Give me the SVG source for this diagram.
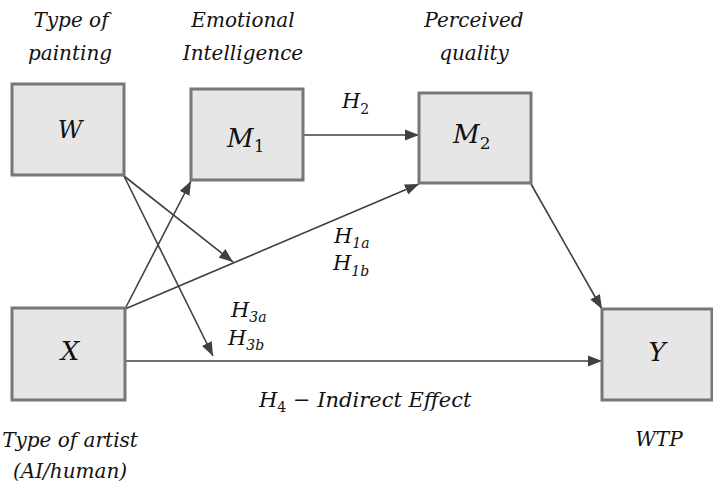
<svg xmlns="http://www.w3.org/2000/svg" width="713" height="485" viewBox="0 0 713 485">
<style>
.box{fill:#e6e6e6;stroke:#777;stroke-width:3}
.t{font-family:"DejaVu Serif","Liberation Serif",serif;font-style:italic;font-size:20px;fill:#111}
.lab{font-family:"DejaVu Serif","Liberation Serif",serif;font-style:italic;font-size:26px;fill:#111}
.h{font-family:"DejaVu Serif","Liberation Serif",serif;font-style:italic;font-size:21px;fill:#111}
.c{text-anchor:middle}
.edge{stroke:#404040;stroke-width:1.6;fill:none;marker-end:url(#ah)}
</style>
<defs>
<marker id="ah" markerUnits="userSpaceOnUse" markerWidth="16" markerHeight="12" refX="14" refY="6" orient="auto">
<path d="M0,0.5 L14,6 L0,11.5 Z" fill="#404040"/>
</marker>
</defs>
<rect width="713" height="485" fill="#fff"/>
<g id="connectors">
<line class="edge" x1="303" y1="135" x2="419" y2="135"/>
<line class="edge" x1="125" y1="309" x2="191" y2="181"/>
<line class="edge" x1="125" y1="309" x2="419" y2="184"/>
<line class="edge" x1="124" y1="176" x2="233" y2="262"/>
<line class="edge" x1="124" y1="176" x2="213" y2="356"/>
<line class="edge" x1="125" y1="361" x2="602" y2="361"/>
<line class="edge" x1="531" y1="184" x2="602" y2="309"/>
</g>
<g id="node-W">
<rect class="box" x="12" y="84" width="112" height="91"/>
<text class="lab c" x="70" y="138" style="font-size:24px">W</text>
<text class="t c" x="71" y="27">Type of</text>
<text class="t c" x="70" y="60">painting</text>
</g>
<g id="node-M1">
<rect class="box" x="191" y="89" width="112" height="91"/>
<text class="lab" x="227" y="147">M<tspan dy="5" style="font-size:17px;font-style:normal">1</tspan></text>
<text class="t c" x="243" y="27">Emotional</text>
<text class="t c" x="243" y="60">Intelligence</text>
</g>
<g id="node-M2">
<rect class="box" x="419" y="93" width="112" height="90"/>
<text class="lab" x="453" y="143">M<tspan dy="6" style="font-size:17px;font-style:normal">2</tspan></text>
<text class="t c" x="474" y="27">Perceived</text>
<text class="t c" x="474" y="60">quality</text>
</g>
<g id="node-X">
<rect class="box" x="12" y="308" width="113" height="92"/>
<text class="lab c" x="70" y="360">X</text>
<text class="t c" x="70" y="447">Type of artist</text>
<text class="t c" x="70" y="478">(AI/human)</text>
</g>
<g id="node-Y">
<rect class="box" x="602" y="309" width="110" height="91"/>
<text class="lab c" x="657" y="361">Y</text>
<text class="t c" x="659" y="446">WTP</text>
</g>
<g id="labels">
<text class="h" x="342" y="108">H<tspan dy="6" style="font-size:14px;font-style:normal">2</tspan></text>
<text class="h" x="334" y="243">H<tspan dy="5" style="font-size:14px">1a</tspan></text>
<text class="h" x="333" y="270">H<tspan dy="6" style="font-size:14px">1b</tspan></text>
<text class="h" x="231" y="317">H<tspan dy="5" style="font-size:14px">3a</tspan></text>
<text class="h" x="228" y="345">H<tspan dy="5" style="font-size:14px">3b</tspan></text>
<text class="h" x="259" y="407">H<tspan dy="5" style="font-size:14px;font-style:normal">4</tspan><tspan dy="-5"> − Indirect Effect</tspan></text>
</g>
</svg>
